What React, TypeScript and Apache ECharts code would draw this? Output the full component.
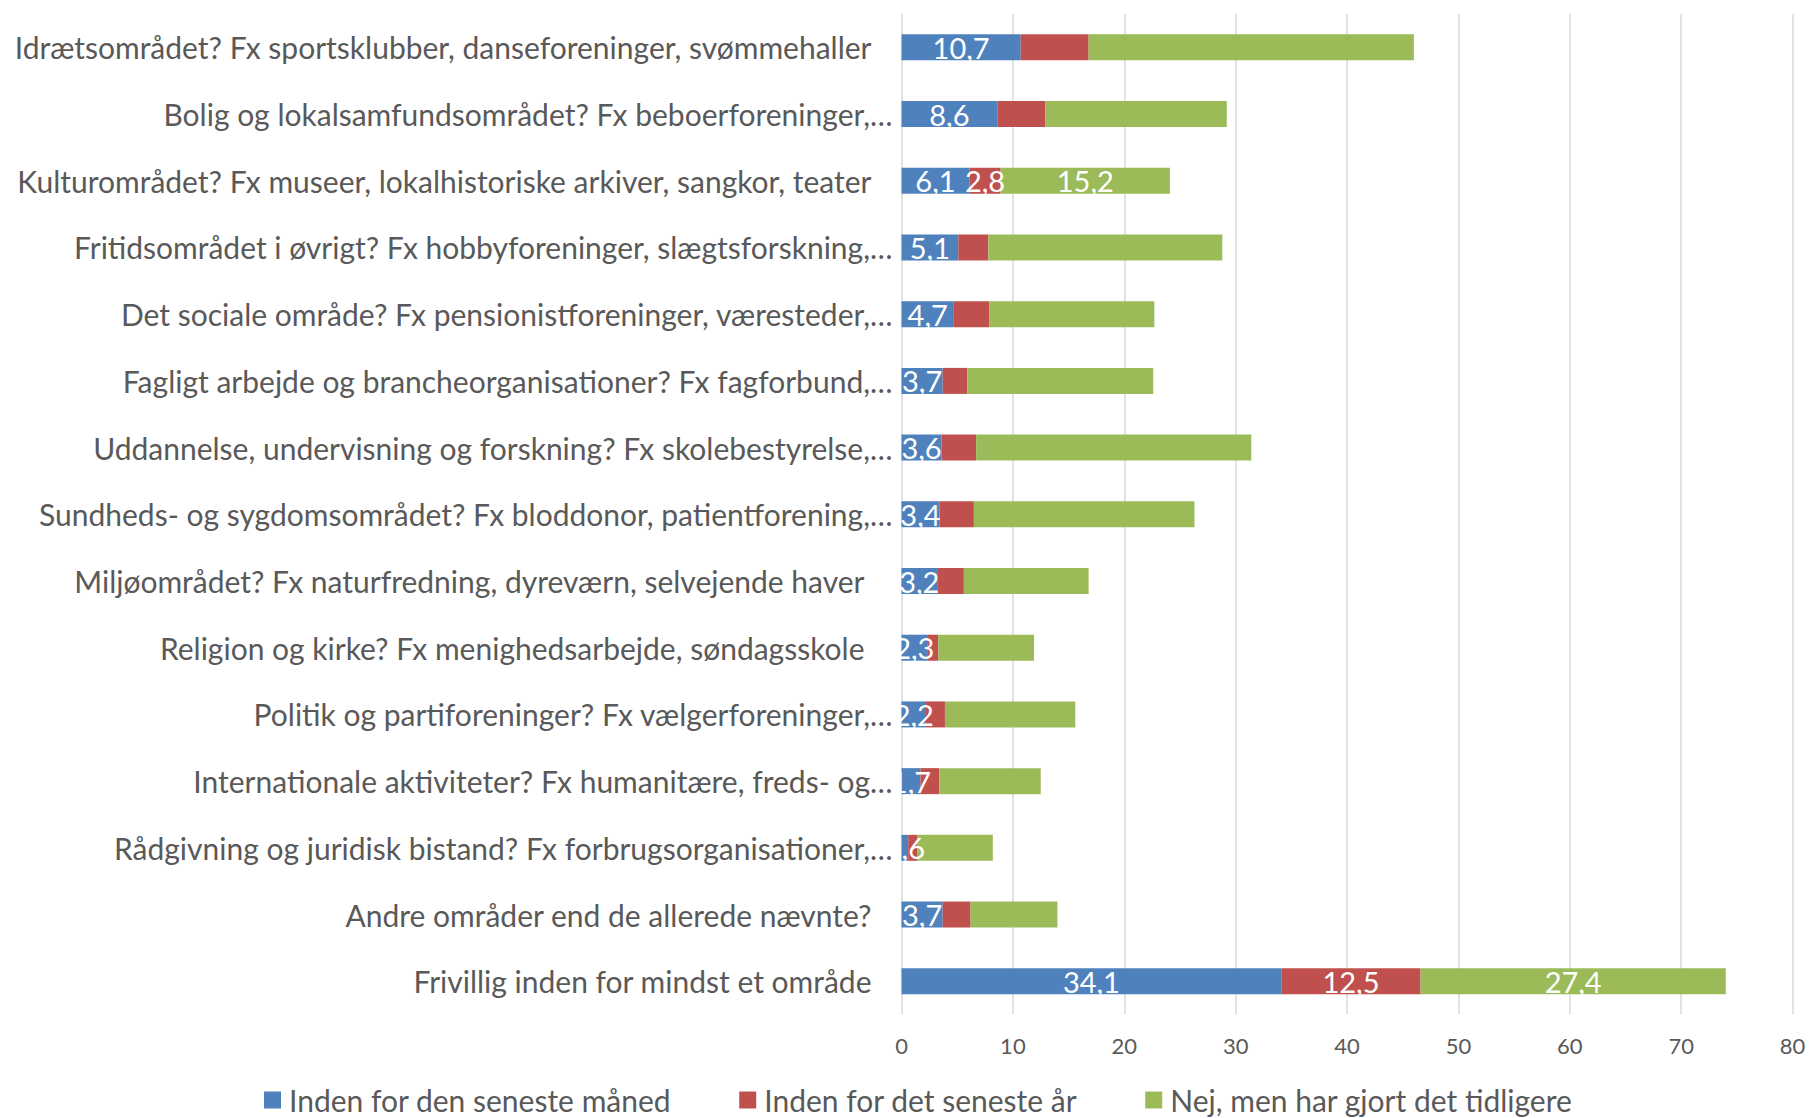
import React, { useEffect, useRef } from "react";
import * as echarts from "echarts";

const categories = [
  "Idrætsområdet? Fx sportsklubber, danseforeninger, svømmehaller",
  "Bolig og lokalsamfundsområdet? Fx beboerforeninger,…",
  "Kulturområdet? Fx museer, lokalhistoriske arkiver, sangkor, teater",
  "Fritidsområdet i øvrigt? Fx hobbyforeninger, slægtsforskning,…",
  "Det sociale område? Fx pensionistforeninger, væresteder,…",
  "Fagligt arbejde og brancheorganisationer? Fx fagforbund,…",
  "Uddannelse, undervisning og forskning? Fx skolebestyrelse,…",
  "Sundheds- og sygdomsområdet? Fx bloddonor, patientforening,…",
  "Miljøområdet? Fx naturfredning, dyreværn, selvejende haver",
  "Religion og kirke? Fx menighedsarbejde, søndagsskole",
  "Politik og partiforeninger? Fx vælgerforeninger,…",
  "Internationale aktiviteter? Fx humanitære, freds- og…",
  "Rådgivning og juridisk bistand? Fx forbrugsorganisationer,…",
  "Andre områder end de allerede nævnte?",
  "Frivillig inden for mindst et område",
];

const seriesNames = [
  "Inden for den seneste måned",
  "Inden for det seneste år",
  "Nej, men har gjort det tidligere",
];

const month = [10.7, 8.6, 6.1, 5.1, 4.7, 3.7, 3.6, 3.4, 3.2, 2.3, 2.2, 1.7, 0.6, 3.7, 34.1];
const year = [6.1, 4.3, 2.8, 2.7, 3.2, 2.2, 3.1, 3.1, 2.4, 1.0, 1.7, 1.7, 0.8, 2.5, 12.5];
const earlier = [29.2, 16.3, 15.2, 21.0, 14.8, 16.7, 24.7, 19.8, 11.2, 8.6, 11.7, 9.1, 6.8, 7.8, 27.4];

// rows whose value labels are shown, per series
const monthLabelRows = [0, 1, 2, 3, 4, 5, 6, 7, 8, 9, 10, 11, 12, 13, 14];
const yearLabelRows = [2, 14];
const earlierLabelRows = [2, 14];

const xTicks = { min: 0, max: 80, interval: 10 };

const colors = ["#4F81BD", "#C0504D", "#9BBB59"];
const FONT = "Lato, 'Open Sans', sans-serif";
const TEXT = "#595959";
const BIG = 30;

const fmt = (v: number) => v.toFixed(1).replace(".", ",");

function buildData(values: number[], labelRows: number[]) {
  return values.map((v, i) => ({
    value: v,
    label: { show: labelRows.includes(i) },
  }));
}

export default function App() {
  const ref = useRef<HTMLDivElement>(null);
  useEffect(() => {
    const chart = echarts.init(ref.current!, null, { renderer: "svg" });
    const labelStyle = {
      position: "inside",
      color: "#FFFFFF",
      fontFamily: FONT,
      fontSize: 29,
      formatter: (p: any) => fmt(p.value),
    };
    const richBase = { fontFamily: FONT, fontSize: BIG, color: TEXT };
    const spaced = new Set([8, 9]);
    chart.setOption({
      animation: false,
      backgroundColor: "#FFFFFF",
      textStyle: { fontFamily: FONT },
      grid: {
        left: 901.5,
        right: 17.4,
        top: 14,
        bottom: 103.4,
        containLabel: false,
        outerBoundsMode: "none",
      },
      legend: {
        data: seriesNames,
        left: 259,
        top: 1080,
        itemWidth: 17,
        itemHeight: 17,
        itemGap: 68,
        icon: "rect",
        textStyle: {
          fontFamily: FONT,
          fontSize: BIG,
          lineHeight: 30,
          color: TEXT,
          padding: [0, 0, 0, 3],
        },
      },
      xAxis: {
        type: "value",
        min: xTicks.min,
        max: xTicks.max,
        interval: xTicks.interval,
        axisLine: { show: false },
        axisTick: { show: false },
        splitLine: { show: true, lineStyle: { color: "#D9D9D9", width: 1.5 } },
        axisLabel: { color: TEXT, fontFamily: FONT, fontSize: 22, margin: 20 },
      },
      yAxis: {
        type: "category",
        data: categories,
        inverse: true,
        z: 10,
        axisLine: { show: false },
        axisTick: { show: false },
        splitLine: { show: false },
        axisLabel: {
          margin: 9,
          color: TEXT,
          fontFamily: FONT,
          fontSize: BIG,
          formatter: (value: string, idx: number) => {
            const key = value.endsWith("…") ? "t" : spaced.has(idx) ? "s" : "f";
            return `{${key}|${value}}`;
          },
          rich: {
            t: { ...richBase },
            f: { ...richBase, padding: [0, 21, 0, 0] },
            s: { ...richBase, padding: [0, 28, 0, 0] },
          },
        },
      },
      graphic: [
        {
          type: "rect",
          z: 5,
          silent: true,
          shape: { x: 850, y: 14, width: 50.6, height: 1001 },
          style: { fill: "#FFFFFF" },
        },
      ],
      series: [
        { name: seriesNames[0], data: buildData(month, monthLabelRows) },
        { name: seriesNames[1], data: buildData(year, yearLabelRows) },
        { name: seriesNames[2], data: buildData(earlier, earlierLabelRows) },
      ].map((s, i) => ({
        ...s,
        type: "bar",
        stack: "total",
        barWidth: 26,
        itemStyle: { color: colors[i] },
        label: labelStyle,
      })),
    });
    return () => chart.dispose();
  }, []);
  return (
    <div
      ref={ref}
      style={{ position: "absolute", left: 0, top: 0, width: 1810, height: 1118 }}
    />
  );
}
